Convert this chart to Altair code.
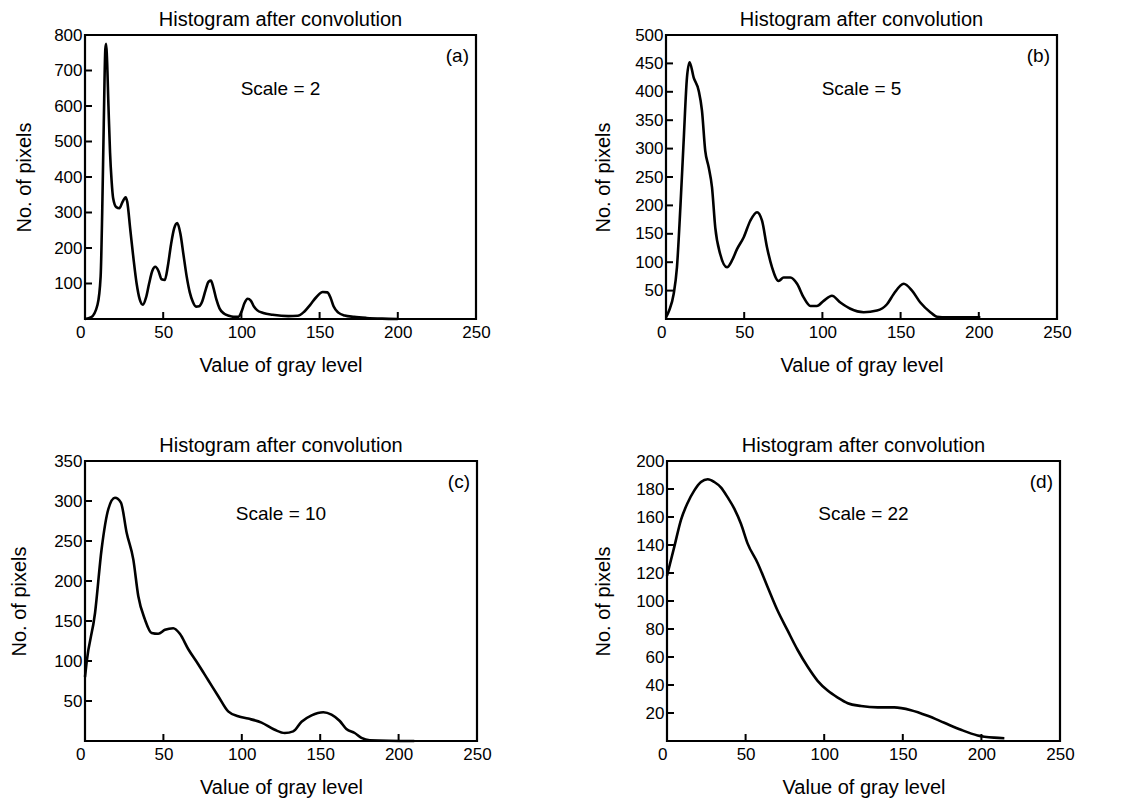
import altair as alt
import pandas as pd

FONT = "Liberation Sans"
TITLE = "Histogram after convolution"
X_TITLE = "Value of gray level"
Y_TITLE = "No. of pixels"
X_TICKS = [0, 50, 100, 150, 200, 250]

# Panel (a): scale = 2
a_x = [0, 4, 8, 10, 11, 12, 13, 13.5, 14, 15, 16, 17, 18, 20, 22, 24, 26, 27, 29, 31, 33, 35, 37,
       39, 41, 43, 45, 47, 49, 51, 53, 55, 57, 59, 61, 63, 65, 67, 69, 71, 73, 75, 77, 79, 80.5,
       82, 84, 86, 89, 92, 95, 98, 100, 102, 104, 106, 108, 110, 114, 120, 130, 136, 140, 144,
       148, 152, 155, 157, 159, 162, 166, 172, 180, 190, 200]
a_y = [0, 5, 40, 120, 300, 550, 760, 775, 740, 600, 470, 390, 340, 315, 312, 330, 343, 330, 250,
       170, 100, 55, 40, 60, 100, 135, 147, 135, 112, 110, 150, 210, 255, 270, 240, 180, 120, 75,
       48, 35, 36, 50, 80, 105, 108, 90, 55, 30, 15, 9, 6, 6, 20, 45, 57, 52, 35, 25, 17, 12, 8,
       9, 20, 40, 62, 76, 75, 60, 35, 18, 10, 6, 3, 1, 0]

# Panel (b): scale = 5
b_x = [0, 2, 4.9, 7, 9.2, 11.3, 13.4, 15.1, 17.7, 20.9, 23, 25.1, 27.3, 29.4, 31.5, 34.7, 39,
       42.2, 45.4, 49.7, 53.9, 58.2, 61.4, 64.6, 67.8, 72, 75.2, 79.5, 83.8, 88, 92.3, 96.5,
       100.8, 106.1, 111.5, 117.9, 126.4, 134.9, 141.3, 145.6, 152, 157.3, 162.6, 169, 173.3,
       179.7, 201]
b_y = [3, 15, 44, 91, 197, 314, 425, 452, 425, 402, 367, 296, 267, 232, 161, 114, 91, 103, 123,
       144, 173, 188, 173, 126, 91, 67, 73, 73, 62, 38, 23, 23, 32, 41, 29, 18, 12, 15, 26, 44,
       62, 50, 29, 12, 4, 3, 3]

# Panel (c): scale = 10
c_x = [0, 1, 6.4, 10.6, 14.9, 19.1, 22.9, 26.6, 30.8, 34, 38.2, 42.5, 46.7, 51, 56.3, 60.5,
       65.8, 72.2, 78.6, 85, 91.3, 97.7, 104, 112.6, 121, 127.4, 132.8, 138.1, 144.5, 152,
       157.2, 162.5, 166.7, 172, 176.3, 181.6, 210]
c_y = [80, 98, 160, 240, 290, 304, 298, 260, 227, 181, 152, 135, 134, 139, 141, 134, 115, 96,
       76, 56, 37, 31, 28, 23, 14, 10, 12, 24, 32, 36, 33, 25, 15, 10, 4, 1, 0]

# Panel (d): scale = 22
d_x = [0, 4.7, 8.9, 13.1, 17.4, 21.6, 25.9, 30.1, 34.4, 38.6, 42.8, 47.1, 51.3, 57.7, 64, 70.4,
       76.7, 83.1, 89.5, 95.8, 102.2, 108.6, 115, 123.4, 134, 144.6, 155.2, 165.8, 176.4, 187,
       197.6, 208.2, 214.6]
d_y = [118, 139, 158, 170, 179, 185, 187, 185, 181, 174, 166, 155, 141, 127, 110, 93, 79, 65,
       53, 43, 36, 31, 27, 25, 24, 24, 22, 18, 13, 8, 4, 2.4, 2]

panels = [
    dict(tag="(a)", scale=2, x=a_x, y=a_y, ymax=800, yticks=[100, 200, 300, 400, 500, 600, 700, 800]),
    dict(tag="(b)", scale=5, x=b_x, y=b_y, ymax=500, yticks=[50, 100, 150, 200, 250, 300, 350, 400, 450, 500]),
    dict(tag="(c)", scale=10, x=c_x, y=c_y, ymax=350, yticks=[50, 100, 150, 200, 250, 300, 350]),
    dict(tag="(d)", scale=22, x=d_x, y=d_y, ymax=200, yticks=[20, 40, 60, 80, 100, 120, 140, 160, 180, 200]),
]


def panel(p, w, h, ytitle_pad):
    xsc = alt.Scale(domain=[0, 250], nice=False, zero=False)
    ysc = alt.Scale(domain=[0, p["ymax"]], nice=False)
    xax = alt.Axis(values=X_TICKS, title=X_TITLE, labelFlush=False, tickSize=0, domain=False,
                   grid=False, labelPadding=5, titlePadding=15,
                   labelAlign={"condition": {"test": "datum.value === 0", "value": "right"},
                               "value": "center"})
    yax = alt.Axis(values=p["yticks"], title=Y_TITLE, tickSize=0, domain=False, grid=False,
                   labelPadding=3, titlePadding=ytitle_pad, labelFlush=False)
    X = lambda f: alt.X(f, type="quantitative", scale=xsc, axis=xax)
    Y = lambda f: alt.Y(f, type="quantitative", scale=ysc, axis=yax)

    df = pd.DataFrame({"x": p["x"], "y": p["y"]})
    line = alt.Chart(df).mark_line(color="black", strokeWidth=2.6, interpolate="monotone").encode(
        x=X("x"), y=Y("y"))
    ytk = alt.Chart(pd.DataFrame({"y": p["yticks"]})).mark_rule(color="black", strokeWidth=2).encode(
        y=Y("y"), x=alt.value(0), x2=alt.value(7))
    xtk = alt.Chart(pd.DataFrame({"x": X_TICKS[1:-1]})).mark_rule(color="black", strokeWidth=2).encode(
        x=X("x"), y=alt.value(h), y2=alt.value(h - 7))
    ann = alt.Chart(pd.DataFrame({"x": [125], "y": [p["ymax"] * 0.81],
                                  "t": [f"Scale = {p['scale']}"]})).mark_text(
        font=FONT, fontSize=19, color="black", baseline="middle").encode(
        x=X("x"), y=Y("y"), text="t:N")
    tag = alt.Chart(pd.DataFrame({"x": [250], "y": [p["ymax"]], "t": [p["tag"]]})).mark_text(
        font=FONT, fontSize=19, color="black", align="right", baseline="middle", dx=-7, dy=21).encode(
        x=X("x"), y=Y("y"), text="t:N")
    return alt.layer(line, ytk, xtk, ann, tag).properties(
        width=w, height=h,
        title=alt.TitleParams(TITLE, font=FONT, fontSize=20, fontWeight="normal", color="black",
                              offset=-4),
    )


top = alt.hconcat(panel(panels[0], 391, 284, 19), panel(panels[1], 391, 284, 21), spacing=100)
bottom = alt.hconcat(panel(panels[2], 392, 280, 24), panel(panels[3], 393, 280, 22), spacing=99)

chart = alt.vconcat(top, bottom, spacing=57).properties(
    padding={"left": 0, "top": 0, "right": 0, "bottom": 0}
).configure_view(stroke="black", strokeWidth=2.2).configure_axis(
    labelFont=FONT, titleFont=FONT, labelFontSize=17, titleFontSize=20, labelColor="black",
    titleColor="black", titleFontWeight="normal"
)

chart.save("out.html", embed_options={"renderer": "svg", "actions": False})
